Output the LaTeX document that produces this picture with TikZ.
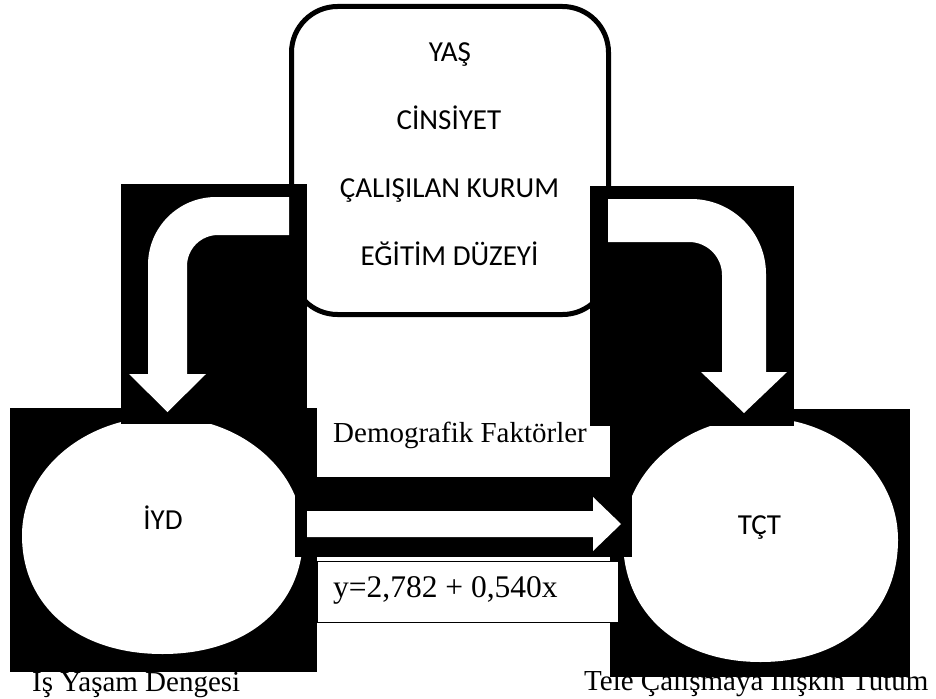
\documentclass[tikz,border=0pt]{standalone}
\usepackage{fontspec}
\setmainfont{Liberation Serif}
\newfontfamily\calfont{Carlito}
\begin{document}
\begin{tikzpicture}[x=1pt,y=-1pt,
  blackbox/.style={fill=black, draw=none, inner sep=0pt, outer sep=0pt, anchor=north west},
  serifl/.style={inner sep=0pt, font=\fontsize{29}{29}\selectfont},
  sansl/.style={inner sep=0pt, font=\calfont\fontsize{29}{29}\selectfont},
  roundbox/.style={draw=black, fill=white, line width=5pt, rounded corners=46pt, inner sep=0pt},
  blockarrow/.style={fill=white, draw=none}
]
\useasboundingbox (0,0) rectangle (936,698);

% demographic factors box
\node[roundbox, minimum width=317pt, minimum height=308pt] (demo) at (450,160.5) {};
\node[sansl, anchor=base] (yas) at (450,62) {YAŞ};
\node[sansl, anchor=base] (cins) at (449,129) {CİNSİYET};
\node[sansl, anchor=base] (kurum) at (449.5,197) {ÇALIŞILAN KURUM};
\node[sansl, anchor=base] (egitim) at (449.5,265) {EĞİTİM DÜZEYİ};

% bottom captions (right one is partly covered by the black box)
\node[serifl, anchor=base west] (capl) at (32,691) {Iş Yaşam Dengesi};
\node[serifl, anchor=base west] (capr) at (584,690) {Tele Çalışmaya İlişkin Tutum};

% left ellipse (IYD)
\node[blackbox, minimum width=307pt, minimum height=264pt] (lbox) at (10,408) {};
\fill[white] (303,535.4)
  .. controls (303,606.6) and (246.8,654) .. (162.5,654)
  .. controls (78.2,654) and (22,606.6) .. (22,535.4)
  .. controls (22,469.9) and (84.9,416.8) .. (162.5,416.8)
  .. controls (240.1,416.8) and (303,469.9) .. (303,535.4) -- cycle;

% right ellipse (TCT)
\node[blackbox, minimum width=300pt, minimum height=268pt] (rbox) at (610,409) {};
\fill[white] (898,539.8)
  .. controls (898,613.1) and (843,662) .. (760.5,662)
  .. controls (678,662) and (623,613.1) .. (623,539.8)
  .. controls (623,472.3) and (684.6,417.6) .. (760.5,417.6)
  .. controls (836.4,417.6) and (898,472.3) .. (898,539.8) -- cycle;

% left bent arrow
\node[blackbox, minimum width=186pt, minimum height=240pt] (labox) at (121,184) {};
\fill[blockarrow] (289,197) -- (216,197)
  .. controls (178.4,197) and (148,227.4) .. (148,265)
  -- (148,374) -- (129,374) -- (167.5,412) -- (206,374) -- (187,374)
  -- (187,266) .. controls (187,248.9) and (200.9,235) .. (218,235)
  -- (289,235) -- cycle;

% right bent arrow
\node[blackbox, minimum width=204pt, minimum height=240pt] (rabox) at (590,186) {};
\fill[blockarrow] (608,199) -- (691,199)
  .. controls (732.4,199) and (766,232.6) .. (766,274)
  -- (766,372) -- (787,372) -- (744,413) -- (701,372) -- (722,372)
  -- (722,275) .. controls (722,256.8) and (707.2,242) .. (689,242)
  -- (608,242) -- cycle;

% horizontal arrow
\node[blackbox, minimum width=337pt, minimum height=80pt] (habox) at (295,477) {};
\fill[blockarrow] (307,511) -- (593,511) -- (593,497) -- (621,524)
  -- (593,551) -- (593,537) -- (307,537) -- cycle;

% equation box
\node[draw=black, fill=white, line width=1pt, inner sep=0pt, anchor=north west,
  minimum width=301pt, minimum height=61pt] (eqbox) at (316.5,561) {};
\node[inner sep=0pt, font=\fontsize{31.5}{31.5}\selectfont, anchor=base west] (eq) at (333,597) {y=2,782 + 0,540x};

% labels
\node[serifl, anchor=base west] (demolbl) at (333,442) {Demografik Faktörler};
\node[sansl, anchor=base] (iyd) at (163,529) {İYD};
\node[sansl, anchor=base] (tct) at (759.5,534) {TÇT};
\end{tikzpicture}
\end{document}
